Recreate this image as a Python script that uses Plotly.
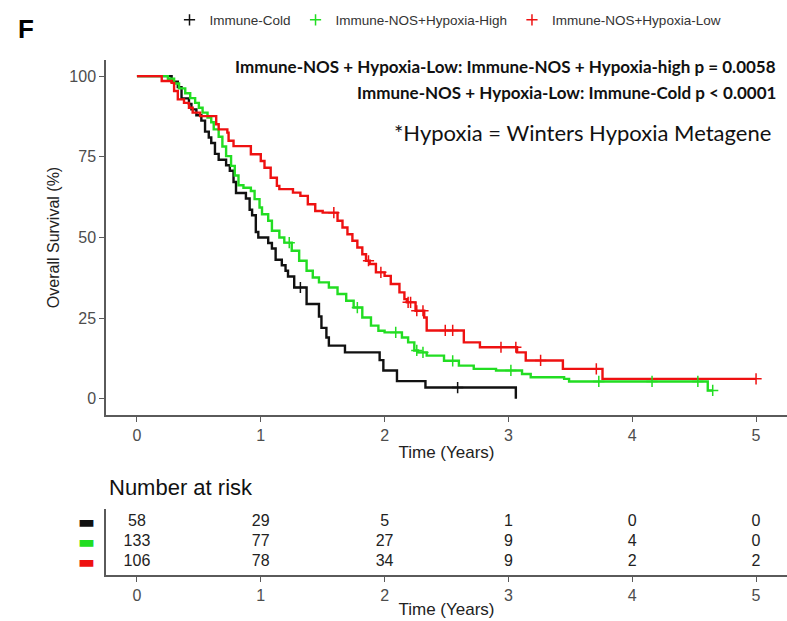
import numpy as np
import plotly.graph_objects as go

# ---- groups -----------------------------------------------------------
groups = ["Immune-Cold", "Immune-NOS+Hypoxia-High", "Immune-NOS+Hypoxia-Low"]
colors = ["#111111", "#22dd22", "#ee1111"]

# ---- Kaplan-Meier steps: event times (years) and survival (%) ---------
cold_t = [0, 0.28, 0.33, 0.36, 0.42, 0.44, 0.48, 0.52, 0.55, 0.58, 0.60, 0.63,
          0.66, 0.72, 0.75, 0.78, 0.80, 0.88, 0.91, 0.93, 0.96, 0.98, 1.06,
          1.09, 1.12, 1.17, 1.20, 1.22, 1.27, 1.37, 1.47, 1.49, 1.53, 1.55,
          1.68, 1.96, 1.99, 2.10, 2.33, 3.06]
cold_s = [100, 98.3, 96.6, 93.1, 91.4, 89.7, 87.9, 86.2, 82.8, 81.0, 79.3, 75.9,
          74.1, 72.4, 70.7, 67.2, 63.8, 62.1, 58.6, 56.9, 51.7, 50.0, 48.3,
          46.6, 43.1, 41.4, 39.7, 37.9, 34.5, 29.4, 25.5, 22.0, 19.0, 16.5,
          14.4, 12.0, 8.8, 5.5, 3.5, 0]
cold_cens = [1.32, 2.59]
cold_end = 3.06

high_t = [0, 0.25, 0.30, 0.34, 0.39, 0.43, 0.47, 0.50, 0.53, 0.57, 0.60, 0.62,
          0.66, 0.69, 0.72, 0.76, 0.79, 0.82, 0.86, 0.92, 0.95, 0.99, 1.01,
          1.06, 1.09, 1.15, 1.19, 1.25, 1.31, 1.37, 1.42, 1.47, 1.55, 1.62,
          1.69, 1.75, 1.82, 1.89, 1.95, 2.00, 2.14, 2.19, 2.24, 2.27, 2.34,
          2.48, 2.60, 2.72, 2.90, 3.11, 3.18, 3.45, 3.49, 4.61]
high_s = [100, 99.2, 97.7, 96.2, 94.7, 93.2, 91.7, 90.2, 88.7, 87.2, 85.7, 83.5,
          81.2, 78.2, 75.2, 72.2, 69.2, 66.2, 65.4, 64.4, 61.9, 59.3, 57.2,
          55.2, 52.1, 50.0, 48.4, 45.9, 42.8, 39.7, 37.6, 36.1, 34.5, 32.5,
          30.4, 28.3, 25.2, 22.7, 21.1, 20.6, 19.0, 17.5, 15.0, 14.4, 13.4,
          11.8, 10.3, 9.3, 8.8, 7.7, 6.7, 6.2, 5.4, 2.6]
high_cens = [1.23, 1.78, 2.09, 2.26, 2.31, 2.55, 3.02, 3.73, 4.16, 4.53, 4.65]
high_end = 4.65

low_t = [0, 0.20, 0.28, 0.30, 0.33, 0.38, 0.42, 0.45, 0.51, 0.64, 0.66, 0.73,
         0.74, 0.78, 0.92, 1.00, 1.03, 1.08, 1.13, 1.15, 1.26, 1.32, 1.38,
         1.44, 1.50, 1.62, 1.66, 1.70, 1.74, 1.78, 1.82, 1.85, 1.88, 1.93,
         2.00, 2.05, 2.12, 2.16, 2.18, 2.25, 2.32, 2.34, 2.64, 2.77, 3.07,
         3.14, 3.44, 3.76]
low_s = [100, 98.5, 97.9, 95.4, 92.8, 91.7, 90.2, 88.7, 87.6, 85.1, 83.5, 82.5,
         80.0, 78.3, 75.8, 73.7, 71.6, 68.5, 66.0, 65.0, 63.9, 62.9, 60.3,
         58.2, 57.7, 55.2, 53.1, 51.0, 49.0, 46.9, 44.8, 42.8, 41.8, 39.2,
         38.1, 35.6, 33.0, 30.9, 29.9, 27.3, 25.2, 21.2, 17.5, 16.0, 14.4,
         11.9, 9.3, 6.2]
low_cens = [1.59, 1.87, 1.97, 2.19, 2.21, 2.26, 2.31, 2.49, 2.55, 2.94, 3.06,
            3.26, 3.71, 5.0]
low_end = 5.0

# ---- number at risk ---------------------------------------------------
risk_times = [0, 1, 2, 3, 4, 5]
cold_risk = [58, 29, 5, 1, 0, 0]
high_risk = [133, 77, 27, 9, 4, 0]
low_risk = [106, 78, 34, 9, 2, 2]

curves = [
    (cold_t, cold_s, cold_cens, cold_end, cold_risk),
    (high_t, high_s, high_cens, high_end, high_risk),
    (low_t, low_s, low_cens, low_end, low_risk),
]

W, H = 787, 621
FONT = "Liberation Sans, Arial, sans-serif"
AXIS_GREY = "#5a5a5a"
TICK_TXT = "#4d4d4d"


def px_x(p):
    return p / W


def px_y(p):
    return 1 - p / H


def step_value(t, s, at):
    t = np.asarray(t)
    idx = np.searchsorted(t, at, side="right") - 1
    return np.asarray(s)[idx]


fig = go.Figure()

for (t, s, cens, end, _), name, col in zip(curves, groups, colors):
    xs = list(t)
    ys = list(s)
    if end > xs[-1]:
        xs.append(end)
        ys.append(ys[-1])
    fig.add_trace(go.Scatter(
        x=xs, y=ys, mode="lines", line=dict(color=col, width=2.4, shape="hv"),
        showlegend=False, hoverinfo="skip", xaxis="x", yaxis="y"))

for (t, s, cens, end, _), name, col in zip(curves, groups, colors):
    fig.add_trace(go.Scatter(
        x=cens, y=step_value(t, s, cens), mode="markers", name=name,
        marker=dict(symbol="cross-thin", size=8,
                    line=dict(color=col, width=1.5)),
        xaxis="x", yaxis="y"))

# risk table rows: first group on top
row_pos = [3, 2, 1]
for (_, _, _, _, risk), col, yr in zip(curves, colors, row_pos):
    fig.add_trace(go.Scatter(
        x=risk_times, y=[yr] * len(risk_times), mode="text",
        text=[str(v) for v in risk], textposition="middle center",
        textfont=dict(family=FONT, size=16, color="#222222"),
        showlegend=False, hoverinfo="skip", cliponaxis=False,
        xaxis="x2", yaxis="y2"))

x_dom = [px_x(106), 1.0]
common_x = dict(
    range=[-0.25, 5.25], tickvals=risk_times, ticks="outside", ticklen=5,
    tickwidth=1.2, tickcolor=AXIS_GREY, showline=True, linecolor=AXIS_GREY,
    linewidth=1.5, showgrid=False, zeroline=False,
    tickfont=dict(family=FONT, size=16, color=TICK_TXT),
)

fig.update_layout(
    width=W, height=H, margin=dict(l=0, r=0, t=0, b=0),
    paper_bgcolor="white", plot_bgcolor="white",
    font=dict(family=FONT, color="#222222"),
    xaxis=dict(domain=x_dom, anchor="y",
               title=dict(text="Time (Years)", standoff=3,
                          font=dict(family=FONT, size=17, color="#222222")),
               **common_x),
    yaxis=dict(domain=[px_y(415), px_y(60)], anchor="x", range=[-5, 105],
               tickvals=[0, 25, 50, 75, 100], ticks="outside", ticklen=5,
               tickwidth=1.2, tickcolor=AXIS_GREY, showline=True,
               linecolor=AXIS_GREY, linewidth=1.5, showgrid=False,
               zeroline=False,
               tickfont=dict(family=FONT, size=16, color=TICK_TXT),
               title=dict(text="Overall Survival (%)", standoff=6,
                          font=dict(family=FONT, size=16, color="#222222"))),
    xaxis2=dict(domain=x_dom, anchor="y2",
                title=dict(text="Time (Years)", standoff=0,
                           font=dict(family=FONT, size=17, color="#222222")),
                **common_x),
    yaxis2=dict(domain=[px_y(575), px_y(509)], anchor="x2",
                range=[0.34, 3.64], tickvals=row_pos,
                ticktext=[f'<span style="color:{c}">▬</span>' for c in colors],
                ticks="", ticklabelstandoff=6, showline=True,
                linecolor=AXIS_GREY, linewidth=1.5, showgrid=False,
                zeroline=False,
                tickfont=dict(family="DejaVu Sans", size=18)),
    legend=dict(orientation="h", x=px_x(448), xanchor="center",
                y=px_y(20), yanchor="middle", bgcolor="rgba(0,0,0,0)",
                font=dict(family=FONT, size=13.5, color="#333333")),
    annotations=[
        dict(text="<b>F</b>", x=px_x(16), y=px_y(29), xref="paper",
             yref="paper", xanchor="left", yanchor="middle", showarrow=False,
             font=dict(family=FONT, size=26, color="#000000")),
        dict(text="<b>Immune-NOS + Hypoxia-Low: Immune-NOS + Hypoxia-high p = 0.0058</b>",
             x=px_x(778), y=px_y(66), xref="paper", yref="paper",
             xanchor="right", yanchor="middle", showarrow=False,
             font=dict(family="Lato", size=17, color="#111111")),
        dict(text="<b>Immune-NOS + Hypoxia-Low: Immune-Cold p &lt; 0.0001</b>",
             x=px_x(778), y=px_y(92), xref="paper", yref="paper",
             xanchor="right", yanchor="middle", showarrow=False,
             font=dict(family="Lato", size=17, color="#111111")),
        dict(text="*Hypoxia = Winters Hypoxia Metagene",
             x=px_x(773), y=px_y(132), xref="paper", yref="paper",
             xanchor="right", yanchor="middle", showarrow=False,
             font=dict(family="Lato", size=22, color="#111111")),
        dict(text="Number at risk", x=px_x(107), y=px_y(487), xref="paper",
             yref="paper", xanchor="left", yanchor="middle", showarrow=False,
             font=dict(family=FONT, size=22, color="#111111")),
    ],
)

fig.write_html("out.html")
